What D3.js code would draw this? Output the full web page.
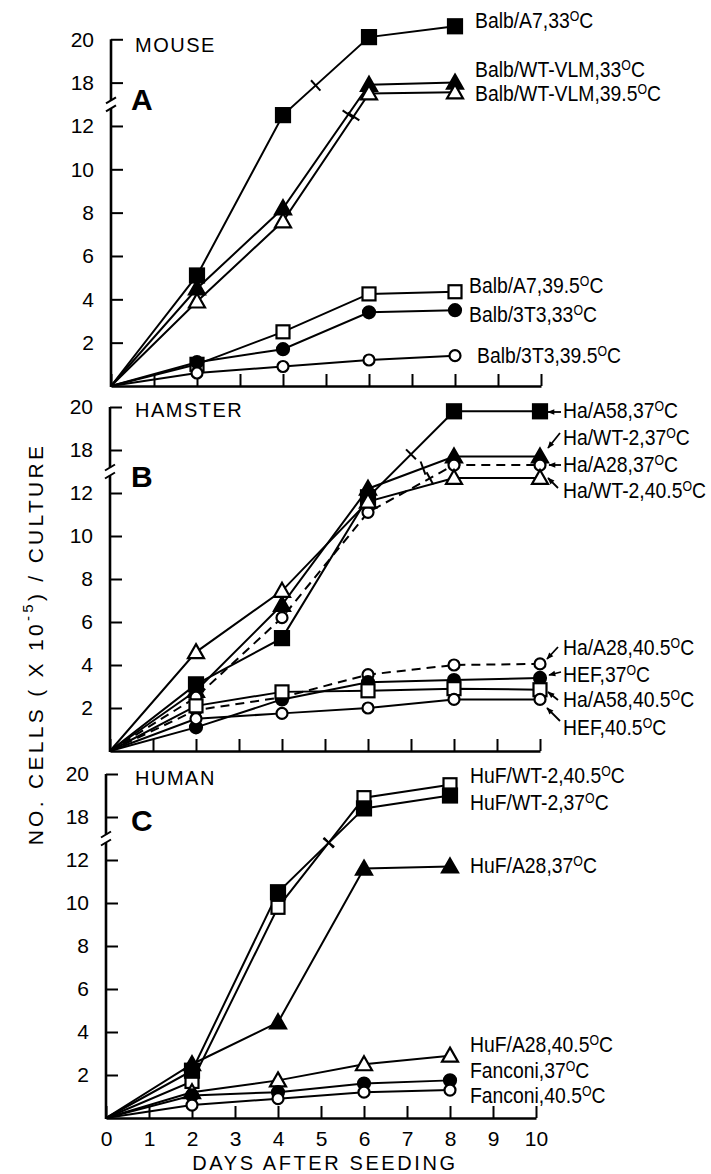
<!DOCTYPE html>
<html>
<head>
<meta charset="utf-8">
<script src="https://cdn.jsdelivr.net/npm/d3@7"></script>
<style>
  body { margin: 0; background: #fff; }
  text { font-family: 'Liberation Sans', Arial, sans-serif; fill: #000; }
  .lbl { font-size: 22px; }
  .tick text { font-size: 21px; font-family: 'Liberation Sans', Arial, sans-serif; }
  .title { font-size: 20px; letter-spacing: 1.5px; }
  .letter { font-size: 30px; font-weight: bold; }
</style>
</head>
<body>
<div id="chart"></div>
<script>
// days on which cells were counted
var daysA = [0, 2, 4, 6, 8];
var daysB = [0, 2, 4, 6, 8, 10];
var daysC = [0, 2, 4, 6, 8];

// A - mouse
var balbA7_33    = [0, 5.1, 12.5, 20.1, 20.6];
var balbVLM_33   = [0, 4.5, 8.2, 17.9, 18.0];
var balbVLM_395  = [0, 3.9, 7.6, 17.5, 17.55];
var balbA7_395   = [0, 1.0, 2.5, 4.25, 4.35];
var balb3T3_33   = [0, 1.1, 1.7, 3.4, 3.5];
var balb3T3_395  = [0, 0.6, 0.9, 1.2, 1.4];

// B - hamster
var haA58_37     = [0, 3.1, 5.25, 11.8, 19.8, 19.8];
var haWT2_37     = [0, 2.8, 6.8, 12.2, 17.7, 17.7];
var haA28_37     = [0, 2.5, 6.2, 11.1, 17.3, 17.3];
var haWT2_405    = [0, 4.6, 7.45, 11.6, 12.7, 12.7];
var haA28_405    = [0, 1.9, 2.5, 3.55, 4.0, 4.05];
var hef_37       = [0, 1.1, 2.4, 3.2, 3.3, 3.4];
var haA58_405    = [0, 2.1, 2.75, 2.8, 2.9, 2.85];
var hef_405      = [0, 1.5, 1.75, 2.0, 2.4, 2.4];

// C - human
var hufWT2_405   = [0, 1.7, 9.8, 18.9, 19.5];
var hufWT2_37    = [0, 2.2, 10.5, 18.4, 19.0];
var hufA28_37    = [0, 2.5, 4.45, 11.6, 11.7];
var hufA28_405   = [0, 1.2, 1.75, 2.5, 2.9];
var fanconi_37   = [0, 1.05, 1.2, 1.6, 1.75];
var fanconi_405  = [0, 0.6, 0.9, 1.2, 1.3];

var yTicks = [2, 4, 6, 8, 10, 12, 18, 20];
var xTicks = [0, 1, 2, 3, 4, 5, 6, 7, 8, 9, 10];

// series tables (mark: sq/ci/tr + F filled / O open)
var seriesA = [
  {lab: "Balb/A7,33",      v: balbA7_33,   mark: "sqF", brk: 0.38},
  {lab: "Balb/WT-VLM,33",  v: balbVLM_33,  mark: "trF", brk: 0.76},
  {lab: "Balb/WT-VLM,39.5",v: balbVLM_395, mark: "trO", brk: 0.82},
  {lab: "Balb/A7,39.5",    v: balbA7_395,  mark: "sqO"},
  {lab: "Balb/3T3,33",     v: balb3T3_33,  mark: "ciF"},
  {lab: "Balb/3T3,39.5",   v: balb3T3_395, mark: "ciO"}
];
var seriesB = [
  {lab: "Ha/A58,37",   v: haA58_37,  mark: "sqF", brk: 0.5},
  {lab: "Ha/WT-2,37",  v: haWT2_37,  mark: "trF", brk: 0.64},
  {lab: "Ha/A28,37",   v: haA28_37,  mark: "ciO", brk: 0.72, dash: true},
  {lab: "Ha/WT-2,40.5",v: haWT2_405, mark: "trO"},
  {lab: "Ha/A28,40.5", v: haA28_405, mark: "ciO", dash: true},
  {lab: "HEF,37",      v: hef_37,    mark: "ciF"},
  {lab: "Ha/A58,40.5", v: haA58_405, mark: "sqO"},
  {lab: "HEF,40.5",    v: hef_405,   mark: "ciO"}
];
var seriesC = [
  {lab: "HuF/WT-2,40.5", v: hufWT2_405, mark: "sqO", brk: 0.59},
  {lab: "HuF/WT-2,37",   v: hufWT2_37,  mark: "sqF", brk: 0.59},
  {lab: "HuF/A28,37",    v: hufA28_37,  mark: "trF"},
  {lab: "HuF/A28,40.5",  v: hufA28_405, mark: "trO"},
  {lab: "Fanconi,37",    v: fanconi_37, mark: "ciF"},
  {lab: "Fanconi,40.5",  v: fanconi_405,mark: "ciO"}
];

// label placement (x, baseline) and arrows for panel B
var labPosA = [[475, 28], [475, 77], [475, 101], [469, 293], [469, 322], [477, 363]];
var labPosB = [[563, 418], [563, 445], [563, 472], [563, 498], [563, 655], [563, 682], [563, 707], [563, 735]];
var arrowsB = [[561, 412, 548, 412], [560, 433, 548, 448], [561, 465, 549, 465], [558, 488, 548, 478],
               [558, 647, 547, 659], [561, 672, 549, 675], [558, 700, 548, 692], [560, 721, 547, 708]];
var labPosC = [[470, 783], [470, 810], [470, 873], [470, 1052], [470, 1078], [470, 1103]];

var panels = [
  {title: "MOUSE",   letter: "A", days: daysA, series: seriesA, labs: labPosA, x0: 111, x1: 541, y0: 386, k: 21.67, titleY: 52,  letterY: 110, xlab: false},
  {title: "HAMSTER", letter: "B", days: daysB, series: seriesB, labs: labPosB, x0: 110, x1: 540, y0: 751, k: 21.5,  titleY: 417, letterY: 487, xlab: false},
  {title: "HUMAN",   letter: "C", days: daysC, series: seriesC, labs: labPosC, x0: 106, x1: 536, y0: 1118, k: 21.5, titleY: 785, letterY: 831, xlab: true}
];

var svg = d3.select("#chart").append("svg")
  .attr("width", 711).attr("height", 1174);

svg.append("defs").append("marker")
  .attr("id", "ah").attr("viewBox", "0 0 10 10")
  .attr("refX", 9).attr("refY", 5)
  .attr("markerWidth", 8).attr("markerHeight", 7)
  .attr("markerUnits", "userSpaceOnUse")
  .attr("orient", "auto")
  .append("path").attr("d", "M0,1L10,5L0,9z").attr("fill", "#000");

function drawMark(g, type, x, y) {
  var filled = type[2] == "F";
  var el;
  if (type.indexOf("sq") == 0) {
    var s = filled ? 14 : 13;
    el = g.append("rect").attr("x", x - s / 2).attr("y", y - s / 2).attr("width", s).attr("height", s);
  } else if (type.indexOf("ci") == 0) {
    el = g.append("circle").attr("cx", x).attr("cy", y).attr("r", filled ? 6 : 5.5);
  } else {
    el = g.append("path").attr("d", "M" + x + "," + (y - 8) + "L" + (x + 8) + "," + (y + 6) + "L" + (x - 8) + "," + (y + 6) + "Z");
  }
  el.attr("fill", filled ? "#000" : "#fff").attr("stroke", "#000").attr("stroke-width", 2.2);
}

panels.forEach(function(p) {
  var x = d3.scaleLinear().domain([0, 10]).range([p.x0, p.x1]);
  // broken axis: 0-13.5 linear, 16.5-20 shifted down by 4 units
  var y = d3.scaleLinear()
    .domain([0, 13.5, 16.5, 20])
    .range([p.y0, p.y0 - 13.5 * p.k, p.y0 - 12.5 * p.k, p.y0 - 16 * p.k]);

  var g = svg.append("g");

  // x axis
  var xa = g.append("g")
    .attr("transform", "translate(0," + p.y0 + ")")
    .call(d3.axisBottom(x).tickValues(xTicks).tickSize(-12).tickSizeOuter(0).tickPadding(13)
      .tickFormat(p.xlab ? d3.format("d") : ""));
  xa.select(".domain").attr("stroke-width", 2.6);
  xa.selectAll(".tick line").attr("stroke-width", 2);

  // y axis (ticks inside, labels left)
  var ya = g.append("g")
    .attr("transform", "translate(" + p.x0 + ",0)")
    .call(d3.axisLeft(y).tickValues(yTicks).tickSize(-12).tickPadding(17));
  ya.select(".domain").remove();
  ya.selectAll(".tick line").attr("stroke-width", 2);

  var yb = y(15);
  g.append("line").attr("x1", p.x0).attr("x2", p.x0).attr("y1", y(20)).attr("y2", yb - 4)
    .attr("stroke", "#000").attr("stroke-width", 2.6);
  g.append("line").attr("x1", p.x0).attr("x2", p.x0).attr("y1", yb + 4).attr("y2", p.y0 + 1)
    .attr("stroke", "#000").attr("stroke-width", 2.6);
  [yb - 4, yb + 4].forEach(function(c) {
    g.append("line").attr("x1", p.x0 - 5).attr("y1", c + 3).attr("x2", p.x0 + 5).attr("y2", c - 3)
      .attr("stroke", "#000").attr("stroke-width", 2);
  });

  g.append("text").attr("class", "title").attr("x", 135).attr("y", p.titleY).text(p.title);
  g.append("text").attr("class", "letter").attr("x", 131).attr("y", p.letterY).text(p.letter);

  var line = d3.line()
    .x(function(d, i) { return x(p.days[i]); })
    .y(function(d) { return y(d); });

  p.series.forEach(function(s) {
    g.append("path").datum(s.v)
      .attr("fill", "none").attr("stroke", "#000").attr("stroke-width", 2)
      .attr("stroke-dasharray", s.dash ? "9,6" : null)
      .attr("d", line);
    if (s.brk) {
      for (var i = 0; i < s.v.length - 1; i++) {
        if (s.v[i] < 13.5 && s.v[i + 1] > 16.5) {
          var ax = x(p.days[i]), ay = y(s.v[i]), bx = x(p.days[i + 1]), by = y(s.v[i + 1]);
          var mx = ax + s.brk * (bx - ax), my = ay + s.brk * (by - ay);
          var len = Math.hypot(bx - ax, by - ay);
          var nx = -(by - ay) / len * 7, ny = (bx - ax) / len * 7;
          g.append("line").attr("x1", mx - nx).attr("y1", my - ny).attr("x2", mx + nx).attr("y2", my + ny)
            .attr("stroke", "#000").attr("stroke-width", 2);
        }
      }
    }
  });

  p.series.forEach(function(s) {
    s.v.forEach(function(d, i) {
      if (p.days[i] > 0) drawMark(g, s.mark, x(p.days[i]), y(d));
    });
  });

  // labels: narrow look by squeezing horizontally
  p.series.forEach(function(s, i) {
    var t = g.append("text").attr("class", "lbl")
      .attr("transform", "translate(" + p.labs[i][0] + "," + p.labs[i][1] + ") scale(0.88,1)");
    t.append("tspan").text(s.lab);
    t.append("tspan").attr("dy", -7).style("font-size", "14px").text("O");
    t.append("tspan").attr("dy", 7).text("C");
  });

  if (p.letter == "B") {
    arrowsB.forEach(function(a) {
      g.append("line").attr("x1", a[0]).attr("y1", a[1]).attr("x2", a[2]).attr("y2", a[3])
        .attr("stroke", "#000").attr("stroke-width", 1.8).attr("marker-end", "url(#ah)");
    });
  }
});

// axis titles
svg.append("text").attr("class", "title").attr("x", 325).attr("y", 1170)
  .attr("text-anchor", "middle").style("letter-spacing", "2.6px").text("DAYS AFTER SEEDING");

var yt = svg.append("text").attr("class", "title")
  .attr("transform", "translate(43,644) rotate(-90)")
  .attr("text-anchor", "middle").style("font-size", "21px").style("letter-spacing", "3.3px");
yt.append("tspan").text("NO.  CELLS ( X 10");
yt.append("tspan").attr("dy", -10).style("font-size", "15px").text("-5");
yt.append("tspan").attr("dy", 10).text(") / CULTURE");
</script>
</body>
</html>
